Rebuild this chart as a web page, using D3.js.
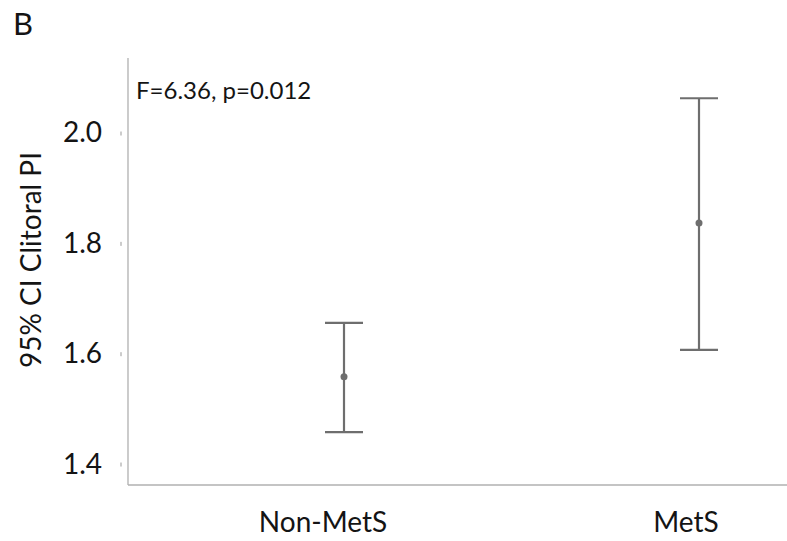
<!DOCTYPE html>
<html><head><meta charset="utf-8">
<script src="https://cdn.jsdelivr.net/npm/d3@7"></script>
<style>body{margin:0;background:#fff;} svg{display:block;font-family:Lato,"Open Sans",sans-serif;}</style>
</head><body>
<svg id="c" width="787" height="541"></svg>
<script>
const categories = ["Non-MetS", "MetS"];
const means = [1.558, 1.837];
const lower = [1.458, 1.607];
const upper = [1.656, 2.063];
const yTicks = [1.4, 1.6, 1.8, 2.0];
const yDomain = [1.362, 2.136];

const svg = d3.select("#c");
const axisX = 128, axisBottom = 485, axisTop = 58;
const y = d3.scaleLinear().domain(yDomain).range([axisBottom, axisTop]);
const x = d3.scalePoint().domain(categories).range([344, 699]);
const xLab = d3.scalePoint().domain(categories).range([323, 686]);
const txt = "#141414";

// axes lines
svg.append("line").attr("x1", axisX).attr("x2", axisX).attr("y1", axisTop).attr("y2", axisBottom)
  .attr("stroke", "#b0b0b0").attr("stroke-width", 1.3);
svg.append("line").attr("x1", axisX).attr("x2", 787).attr("y1", axisBottom).attr("y2", axisBottom)
  .attr("stroke", "#b0b0b0").attr("stroke-width", 1.3);

const yAxis = svg.append("g").attr("transform", `translate(${axisX},0)`)
  .call(d3.axisLeft(y).tickValues(yTicks).tickFormat(d3.format(".1f")).tickSize(0).tickPadding(26));
yAxis.select(".domain").remove();
yAxis.selectAll("text").attr("font-size", 28).attr("fill", txt).attr("font-family", "Lato, sans-serif");
yAxis.selectAll(".tick").append("line").attr("x1", -7).attr("x2", -7).attr("y1", -2).attr("y2", 2)
  .attr("stroke", "#999").attr("stroke-width", 1);

// x labels
svg.selectAll(".xl").data(categories).join("text").attr("class", "xl")
  .attr("x", d => xLab(d)).attr("y", 532).attr("text-anchor", "middle")
  .attr("font-size", 28).attr("fill", txt).text(d => d);

// error bars
const col = "#6e6e6e", cap = 19;
const g = svg.append("g");
categories.forEach((c, i) => {
  const cx = x(c);
  g.append("line").attr("x1", cx).attr("x2", cx).attr("y1", y(upper[i])).attr("y2", y(lower[i]))
    .attr("stroke", col).attr("stroke-width", 2.2);
  [upper[i], lower[i]].forEach(v => g.append("line").attr("x1", cx - cap).attr("x2", cx + cap)
    .attr("y1", y(v)).attr("y2", y(v)).attr("stroke", col).attr("stroke-width", 2.2));
  g.append("circle").attr("cx", cx).attr("cy", y(means[i])).attr("r", 3.5).attr("fill", col);
});

// annotations
svg.append("text").attr("x", 136).attr("y", 99).attr("font-size", 24).attr("fill", txt).text("F=6.36, p=0.012");
svg.append("text").attr("x", 13).attr("y", 35).attr("font-size", 31).attr("fill", txt).text("B");
svg.append("text").attr("transform", "translate(41,260) rotate(-90)").attr("text-anchor", "middle")
  .attr("font-size", 28).attr("fill", txt).text("95% CI Clitoral PI");
</script>
</body></html>
